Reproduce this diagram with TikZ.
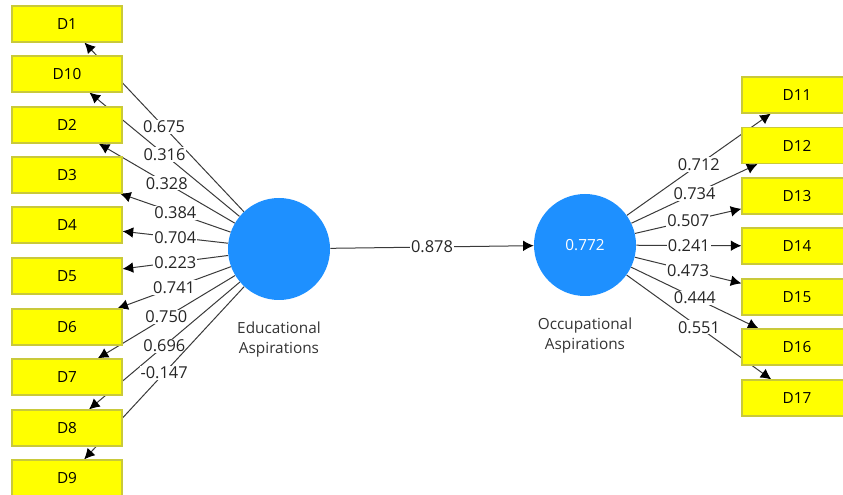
\documentclass[tikz,border=0pt]{standalone}
\usepackage{fontspec}
\setmainfont{Open Sans}
\usepackage{tikz}
\usetikzlibrary{arrows.meta,positioning,backgrounds}
\definecolor{itemyellow}{HTML}{FFFF00}
\definecolor{itemedge}{HTML}{C9C93A}
\definecolor{latentblue}{HTML}{1E90FF}
\definecolor{pathgray}{HTML}{3A3A3A}
\tikzset{
  itembox/.style={draw=itemedge,fill=itemyellow,line width=0.8pt,minimum width=82.5pt,minimum height=27pt,inner sep=0pt,font=\fontsize{11.5}{13}\selectfont},
  latent/.style={circle,fill=latentblue,minimum size=76.5pt,inner sep=0pt,text=white,font=\fontsize{11.5}{13}\selectfont},
  latentname/.style={align=center,font=\fontsize{11.5}{15}\selectfont,text=black!80},
  loading/.style={fill=white,inner sep=0.8pt,font=\fontsize{12.3}{13}\selectfont,text=black!85},
  pathline/.style={draw=pathgray,line width=0.75pt,-{Latex[length=8pt,width=8pt,color=black]}}
}

\begin{document}
\begin{tikzpicture}[x=0.75pt,y=-0.75pt]
  \useasboundingbox (0,0) rectangle (843,495);
  % latent variables
  \node[latent] (edu) at (279,249) {};
  \node[latent] (occ) at (585,245) {0.772};
  \node[latentname,below=13pt of edu] (edutext) {Educational\\Aspirations};
  \node[latentname,below=13pt of occ] (occtext) {Occupational\\Aspirations};
  % indicators
  \foreach \nm/\y in {D1/24,D10/74,D2/125,D3/175,D4/225,D5/276,D6/327,D7/377,D8/428,D9/478}
    \node[itembox] (\nm) at (67,\y) {\nm};
  \foreach \nm/\y in {D11/95,D12/145.5,D13/196,D14/246,D15/297,D16/347,D17/398}
    \node[itembox] (\nm) at (797,\y) {\nm};
  % loadings
  \begin{scope}[on background layer]
    \foreach \nm/\val in {D1/0.675,D10/0.316,D2/0.328,D3/0.384,D4/0.704,D5/0.223,D6/0.741,D7/0.750,D8/0.696,D9/-0.147}
      \draw[pathline] (edu) -- node[loading] {\val} (\nm);
    \foreach \nm/\val in {D11/0.712,D12/0.734,D13/0.507,D14/0.241,D15/0.473,D16/0.444,D17/0.551}
      \draw[pathline] (occ) -- node[loading] {\val} (\nm);
  \end{scope}
  \draw[pathline] (edu) -- node[loading] {0.878} (occ);
\end{tikzpicture}
\end{document}
